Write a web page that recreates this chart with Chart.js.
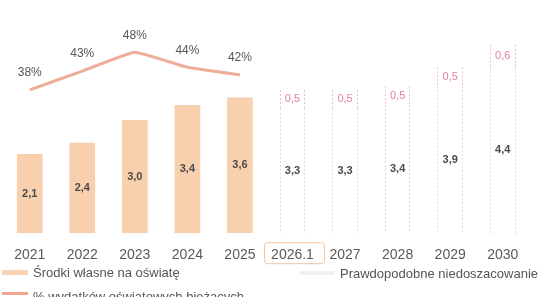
<!DOCTYPE html>
<html>
<head>
<meta charset="utf-8">
<script src="https://cdn.jsdelivr.net/npm/chart.js@4"></script>
<style>
    html, body { margin: 0; padding: 0; background: #fff; overflow: hidden; width: 553px; height: 297px; font-family: "Liberation Sans", Arial, sans-serif; }
    #wrap { position: absolute; left: 0; top: 0; width: 553px; height: 278px; }
    .leg { position: absolute; font-size: 13px; color: #555; white-space: nowrap; line-height: 15px; }
    .sw { position: absolute; }
</style>
</head>
<body>
<div id="wrap"><canvas id="chart"></canvas></div>

<div class="sw" style="left:2px; top:270px; width:26px; height:5px; background:#f9d3b6;"></div>
<div class="leg" style="left:33px; top:265px;">Środki własne na oświatę</div>
<div class="sw" style="left:300px; top:271px; width:34px; height:4px; background:#f2f0f0;"></div>
<div class="leg" style="left:340px; top:266px;">Prawdopodobne niedoszacowanie</div>
<div class="sw" style="left:2px; top:292px; width:26px; height:3px; background:#f2a68c;"></div>
<div class="leg" style="left:33px; top:289px;">% wydatków oświatowych bieżących</div>

<script>
// --------------------------- Data

const years = ['2021', '2022', '2023', '2024', '2025', '2026.1', '2027', '2028', '2029', '2030'];
const own_funds = [2.1, 2.4, 3.0, 3.4, 3.6, null, null, null, null, null];
const forecast_base = [null, null, null, null, null, 3.3, 3.3, 3.4, 3.9, 4.4];
const underestimate = [null, null, null, null, null, 0.5, 0.5, 0.5, 0.5, 0.6];
const share_pct = [38, 43, 48, 44, 42, null, null, null, null, null];

const COLORS = {
    peach: '#f9d0ae',
    line: '#efae98',
    dashOrange: '#f6d2b6',
    dashPink: '#f4bccb',
    pinkText: '#e0829c',
    text: '#4a4a4a',
    tick: '#5a5a5a'
};

const fmt = v => v.toFixed(1).replace('.', ',');

// --------------------------- Plugins

// dashed side borders for forecast bars
const dashedBars = {
    id: 'dashedBars',
    afterDatasetsDraw(chart) {
        const ctx = chart.ctx;
        chart.data.datasets.forEach((ds, i) => {
            if (!ds.dashColor) return;
            const meta = chart.getDatasetMeta(i);
            meta.data.forEach((el, j) => {
                if (ds.data[j] == null) return;
                const p = el.getProps(['x', 'y', 'base', 'width'], true);
                const l = Math.round(p.x - p.width / 2) + 0.5;
                const r = Math.round(p.x + p.width / 2) - 0.5;
                ctx.save();
                ctx.strokeStyle = ds.dashColor;
                ctx.lineWidth = 1;
                ctx.setLineDash([2, 2]);
                ctx.beginPath();
                ctx.moveTo(l, p.y); ctx.lineTo(l, p.base);
                ctx.moveTo(r, p.y); ctx.lineTo(r, p.base);
                ctx.stroke();
                ctx.restore();
            });
        });
    }
};

// value labels
const valueLabels = {
    id: 'valueLabels',
    afterDatasetsDraw(chart) {
        const ctx = chart.ctx;
        ctx.save();
        ctx.textAlign = 'center';
        ctx.textBaseline = 'middle';
        chart.data.datasets.forEach((ds, i) => {
            const meta = chart.getDatasetMeta(i);
            meta.data.forEach((el, j) => {
                const v = ds.data[j];
                if (v == null) return;
                const p = el.getProps(['x', 'y', 'base'], true);
                if (ds.type === 'line') {
                    ctx.font = '12px "Liberation Sans", Arial, sans-serif';
                    ctx.fillStyle = '#555';
                    ctx.fillText(v + '%', p.x, p.y - 17);
                } else if (ds.labelColor) {
                    ctx.font = '11px "Liberation Sans", Arial, sans-serif';
                    ctx.fillStyle = ds.labelColor;
                    ctx.fillText(fmt(v), p.x, (p.y + p.base) / 2);
                } else {
                    ctx.font = 'bold 11px "Liberation Sans", Arial, sans-serif';
                    ctx.fillStyle = COLORS.text;
                    ctx.fillText(fmt(v), p.x, (p.y + p.base) / 2);
                }
            });
        });
        ctx.restore();
    }
};

// box round the 2026 tick label
const tickBox = {
    id: 'tickBox',
    afterDraw(chart) {
        const ctx = chart.ctx;
        const x = chart.scales.x.getPixelForValue(5);
        const top = chart.chartArea.bottom + 9.5;
        ctx.save();
        ctx.strokeStyle = '#f0c6a2';
        ctx.lineWidth = 1;
        ctx.beginPath();
        ctx.roundRect(Math.round(x - 29) + 0.5, top, 60, 21, 3);
        ctx.stroke();
        ctx.restore();
    }
};

// --------------------------- Chart

const data = {
    labels: years,
    datasets: [
        {
            type: 'line',
            label: '% wydatków oświatowych bieżących',
            data: share_pct,
            yAxisID: 'y1',
            borderColor: COLORS.line,
            borderWidth: 3,
            pointRadius: 0,
            tension: 0.1,
            order: 0
        },
        {
            type: 'bar',
            label: 'Środki własne na oświatę',
            data: own_funds,
            backgroundColor: COLORS.peach,
            stack: 's',
            order: 1
        },
        {
            type: 'bar',
            label: 'Prognoza',
            data: forecast_base,
            backgroundColor: 'rgba(255,255,255,0)',
            dashColor: COLORS.dashOrange,
            stack: 's',
            order: 1
        },
        {
            type: 'bar',
            label: 'Prawdopodobne niedoszacowanie',
            data: underestimate,
            backgroundColor: 'rgba(255,255,255,0)',
            dashColor: COLORS.dashPink,
            labelColor: COLORS.pinkText,
            stack: 's',
            order: 1
        }
    ]
};

const options = {
    responsive: true,
    maintainAspectRatio: false,
    animation: false,
    layout: { padding: { top: 7, left: 3, right: 24, bottom: 0 } },
    datasets: { bar: { categoryPercentage: 1, barPercentage: 0.49 } },
    plugins: {
        legend: { display: false },
        tooltip: { enabled: false }
    },
    scales: {
        x: {
            stacked: true,
            grid: { display: false, drawTicks: false },
            border: { display: false },
            ticks: {
                padding: 14,
                color: COLORS.tick,
                font: { family: '"Liberation Sans", Arial, sans-serif', size: 14 },
                maxRotation: 0,
                autoSkip: false
            }
        },
        y: {
            stacked: true,
            display: false,
            min: 0,
            max: 6
        },
        y1: {
            display: false,
            min: 0,
            max: 60
        }
    }
};

new Chart(document.getElementById('chart'), {
    data: data,
    options: options,
    plugins: [dashedBars, valueLabels, tickBox]
});
</script>
</body>
</html>
